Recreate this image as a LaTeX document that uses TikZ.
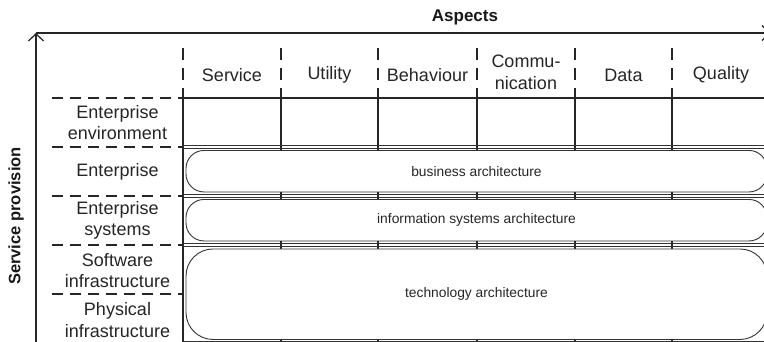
\documentclass[tikz,border=0pt]{standalone}
\usepackage{fontspec}
\setmainfont{Liberation Sans}
\usetikzlibrary{arrows.meta}
\begin{document}
\begin{tikzpicture}[x=1pt,y=-1pt,
  lab/.style={font=\fontsize{18}{21.5}\selectfont, align=center, text=black!85, inner sep=0pt},
  title/.style={font=\fontsize{17}{20}\selectfont\bfseries, text=black!90, inner sep=0pt},
  arch/.style={draw=black!80, line width=0.9pt, fill=white, rounded corners=18pt,
               font=\fontsize{13.8}{16}\selectfont, text=black!85, inner sep=0pt},
  rowdash/.style={draw=black!85, line width=2.5pt, dash pattern=on 11pt off 7pt},
  coldash/.style={draw=black!85, line width=2.2pt, dash pattern=on 12pt off 8pt},
  colline/.style={draw=black!85, line width=1.4pt},
  leftline/.style={draw=black!85, line width=2pt},
  dblline/.style={draw=black!80, line width=0.9pt},
  axisline/.style={draw=black!85, line width=1.3pt, -{Straight Barb[length=7pt,width=15pt,line width=1.3pt]}}
]
\useasboundingbox (0,0) rectangle (764,341);
\fill[white] (0,0) rectangle (764,341);
\clip (0,0) rectangle (764,341);

% axes
\coordinate (origin) at (36,33);
\coordinate (ytop) at (36,33);
\coordinate (ybot) at (36,350);
\coordinate (xend) at (770,33);
\draw[axisline] (ybot) -- (ytop);
\draw[axisline] (origin) -- (xend);

\node[title] (aspects) at (465,17) {Aspects};
\node[title, font=\fontsize{16.5}{19}\selectfont\bfseries, rotate=90] (provision) at (16,216) {Service provision};

% column positions
\foreach \n/\x in {0/183,1/281,2/378,3/477,4/575,5/672,6/770}{
  \coordinate (ct\n) at (\x,48);
  \coordinate (ch\n) at (\x,98);
  \coordinate (cb\n) at (\x,350);
}
% header dashed lines
\foreach \n in {0,...,5}{ \draw[coldash] (ct\n) -- (ch\n); }
% solid column lines
\foreach \n in {1,...,6}{ \draw[colline] (ch\n) -- (cb\n); }
\draw[leftline] (ch0) -- (cb0);

% row boundaries
\coordinate (g0) at (183,98);  \coordinate (e0) at (770,98);
\draw[colline, line width=1.2pt] (g0) -- (e0);
\foreach \n/\y in {1/147,2/196,3/245,4/343}{
  \coordinate (ga\n) at (183,\y-1.4); \coordinate (ea\n) at (770,\y-1.4);
  \coordinate (gb\n) at (183,\y+1.4); \coordinate (eb\n) at (770,\y+1.4);
  \draw[dblline] (ga\n) -- (ea\n);
  \draw[dblline] (gb\n) -- (eb\n);
}
% left dashed row lines
\foreach \n/\y in {0/98,1/147,2/196,3/245,4/294}{
  \coordinate (ls\n) at (52,\y); \coordinate (le\n) at (183,\y);
  \draw[rowdash] (ls\n) -- (le\n);
}

% architecture boxes
\node[arch, minimum width=581pt, minimum height=41.5pt] (business) at (476.5,171.2) {business architecture};
\node[arch, minimum width=581pt, minimum height=41.5pt] (infosys) at (476.5,220.2) {information systems architecture};
\node[arch, rounded corners=27pt, minimum width=581pt, minimum height=90.5pt] (tech) at (476.5,294.2) {technology architecture};

% header labels
\node[lab] (hservice) at (232,75) {Service};
\node[lab] (hutility) at (329.5,75) {Utility};
\node[lab] (hbehav) at (427.5,75) {Behaviour};
\node[lab] (hcomm) at (526,72.5) {Commu-\\nication};
\node[lab] (hdata) at (623.5,75) {Data};
\node[lab] (hquality) at (721,75) {Quality};

% row labels
\node[lab] (renv) at (117.5,122.5) {Enterprise\\environment};
\node[lab] (rent) at (117.5,171.5) {Enterprise};
\node[lab] (rsys) at (117.5,220.5) {Enterprise\\systems};
\node[lab] (rsoft) at (117.5,270.5) {Software\\infrastructure};
\node[lab] (rphys) at (117.5,320) {Physical\\infrastructure};
\end{tikzpicture}
\end{document}
